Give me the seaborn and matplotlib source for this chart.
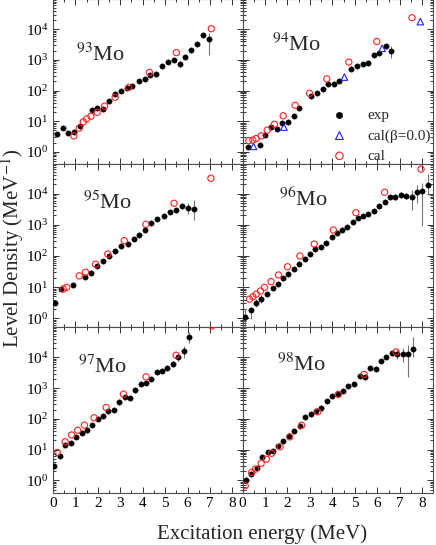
import matplotlib
matplotlib.use("Agg")
import matplotlib.pyplot as plt
import numpy as np
import pandas as pd
import seaborn as sns
from matplotlib.ticker import FixedLocator, LogLocator, MultipleLocator, NullFormatter

# ---- data (excitation energy in MeV, level density in 1/MeV) ----
mo93_exp_x = [0.16, 0.43, 0.68, 0.93, 1.2, 1.73, 1.98, 2.24, 2.5, 2.76, 3.02, 3.28, 3.54, 3.82,
              4.09, 4.34, 4.6, 4.86, 5.13, 5.38, 5.65, 5.9, 6.17, 6.42, 6.7, 6.97]
mo93_exp_y = [3.7, 5.8, 4.2, 4.4, 7.0, 23, 26, 25, 45, 75, 98, 117, 145, 200,
              245, 323, 347, 630, 850, 980, 760, 1260, 2150, 3200, 6300, 4900]
mo93_cal_x = [0.93, 1.17, 1.35, 1.5, 1.69, 1.97, 2.3, 2.77, 3.38, 4.3, 5.5, 7.06]
mo93_cal_y = [3.3, 5.9, 9.5, 11.8, 14.5, 19.4, 31, 60, 127, 390, 1730, 10500]
mo93_err_x = [5.65, 6.7, 6.97]
mo93_err_lo = [600, 5200, 1500]
mo93_err_hi = [950, 7600, 7400]

mo94_exp_x = [0.24, 0.76, 1.02, 1.27, 1.53, 1.76, 2.03, 2.27, 2.53, 3.05, 3.31, 3.57, 3.79, 4.06,
              4.31, 4.83, 5.08, 5.35, 5.6, 5.87, 6.09, 6.36, 6.61]
mo94_exp_y = [1.45, 1.65, 3.5, 6.6, 5.5, 8.4, 9.5, 14.7, 27, 66, 85, 110, 160, 160,
              205, 490, 630, 740, 810, 1450, 1730, 2900, 1950]
mo94_cal_x = [0.28, 0.46, 0.61, 0.83, 1.1, 1.42, 1.81, 2.34, 2.98, 3.75, 4.73, 5.97, 7.54]
mo94_cal_y = [2.3, 2.4, 2.7, 3.3, 5.1, 7.9, 15, 33, 81, 240, 850, 4000, 24000]
mo94_b0_x = [0.49, 1.84, 4.53, 6.21, 7.91]
mo94_b0_y = [1.5, 6.4, 275, 2400, 17800]
mo94_err_x = [6.61]
mo94_err_lo = [1120]
mo94_err_hi = [2820]

mo95_exp_x = [0.09, 0.34, 0.91, 1.43, 1.69, 1.97, 2.24, 2.5, 2.77, 3.04, 3.33, 3.59, 3.85, 4.1,
              4.38, 4.65, 4.93, 5.2, 5.48, 5.75, 6.02, 6.3]
mo95_exp_y = [3.0, 8.7, 11.7, 21.5, 27.6, 47, 69, 100, 144, 209, 240, 350, 470, 680,
              1100, 1490, 1950, 2500, 2960, 4000, 3400, 3100]
mo95_cal_x = [0.46, 0.61, 1.17, 1.45, 1.9, 2.44, 3.18, 4.14, 5.4, 7.04]
mo95_cal_y = [8.7, 9.8, 23, 30, 54, 115, 310, 1030, 4900, 31000]
mo95_err_x = [6.02, 6.3]
mo95_err_lo = [2300, 1410]
mo95_err_hi = [5000, 6200]

mo96_exp_x = [0.09, 0.39, 0.61, 0.84, 1.1, 1.35, 1.58, 1.82, 2.04, 2.29, 2.53, 2.78, 3.0, 3.24,
              3.47, 3.72, 3.96, 4.19, 4.43, 4.65, 4.9, 5.13, 5.38, 5.6, 5.85, 6.07, 6.32, 6.58,
              6.8, 7.05, 7.27, 7.52, 7.75, 7.99, 8.24]
mo96_exp_y = [1.1, 1.85, 3.2, 4.2, 5.9, 9.6, 12.6, 19, 26, 38, 55, 78, 112, 166,
              197, 265, 400, 525, 680, 870, 1230, 1600, 1950, 2200, 2800, 4000, 5400, 7900,
              7900, 9100, 8600, 7900, 11000, 12300, 18600]
mo96_cal_x = [0.31, 0.46, 0.61, 0.8, 0.98, 1.27, 1.6, 2.0, 2.55, 3.19, 4.04, 5.04, 6.32, 7.94]
mo96_cal_y = [4.1, 4.9, 5.9, 7.5, 9.8, 15, 24.5, 45, 100, 240, 680, 2450, 11000, 61000]
mo96_err_x = [0.09, 0.39, 0.61, 0.84, 6.8, 7.05, 7.27, 7.52, 7.75, 7.99, 8.24]
mo96_err_lo = [0.5, 0.93, 2.3, 3.2, 6300, 7200, 6800, 2950, 4900, 910, 8900]
mo96_err_hi = [2.0, 2.3, 4.3, 5.5, 9800, 11300, 10700, 12900, 18600, 22400, 44000]

mo97_exp_x = [0.06, 0.33, 0.54, 0.79, 1.03, 1.28, 1.53, 1.75, 1.99, 2.22, 2.47, 2.72, 2.96, 3.21,
              3.44, 3.66, 3.91, 4.14, 4.38, 4.63, 4.88, 5.1, 5.34, 5.57, 5.82, 6.07]
mo97_exp_y = [2.9, 6.3, 14, 16.7, 26, 35, 43, 62, 96, 123, 183, 194, 345, 525,
              485, 870, 1320, 1490, 1950, 3240, 3550, 4400, 6300, 10000, 16000, 47000]
mo97_cal_x = [0.19, 0.54, 0.83, 1.1, 1.4, 1.83, 2.37, 3.14, 4.15, 5.49, 7.08]
mo97_cal_y = [8.1, 18, 30, 43, 63, 109, 235, 640, 2340, 11800, 105000]
mo97_err_x = [5.34, 5.57, 5.82, 6.07]
mo97_err_lo = [5000, 7800, 9300, 29000]
mo97_err_hi = [7800, 12800, 23000, 68000]

mo98_exp_x = [0.15, 0.4, 0.63, 0.86, 1.12, 1.34, 1.6, 1.82, 2.07, 2.3, 2.55, 2.79, 3.04, 3.26,
              3.51, 3.75, 4.0, 4.25, 4.49, 4.71, 4.96, 5.21, 5.45, 5.67, 5.92, 6.18, 6.4, 6.64,
              6.89, 7.14, 7.38, 7.6]
mo98_exp_y = [1.0, 1.6, 2.6, 5.6, 8.1, 9.2, 13, 19, 27.5, 40, 60, 112, 144, 183,
              235, 380, 560, 630, 800, 1170, 1320, 2450, 2240, 4400, 4170, 7600, 10000, 14100,
              12600, 13200, 13200, 18600]
mo98_cal_x = [0.12, 0.41, 0.58, 0.83, 1.06, 1.3, 1.67, 2.1, 2.63, 3.35, 4.26, 5.41, 6.83]
mo98_cal_y = [0.67, 1.82, 2.33, 3.6, 4.9, 7.6, 12.4, 26, 62, 170, 630, 2800, 15100]
mo98_err_x = [0.15, 6.89, 7.14, 7.38, 7.6]
mo98_err_lo = [0.75, 8600, 7200, 2350, 10500]
mo98_err_hi = [1.3, 19500, 20600, 25000, 47000]

nuclei = ["93", "94", "95", "96", "97", "98"]
legend_labels = ["exp", "cal(\u03b2=0.0)", "cal"]

PANELS = {
    "93": (mo93_exp_x, mo93_exp_y, mo93_cal_x, mo93_cal_y, mo93_err_x, mo93_err_lo, mo93_err_hi),
    "94": (mo94_exp_x, mo94_exp_y, mo94_cal_x, mo94_cal_y, mo94_err_x, mo94_err_lo, mo94_err_hi),
    "95": (mo95_exp_x, mo95_exp_y, mo95_cal_x, mo95_cal_y, mo95_err_x, mo95_err_lo, mo95_err_hi),
    "96": (mo96_exp_x, mo96_exp_y, mo96_cal_x, mo96_cal_y, mo96_err_x, mo96_err_lo, mo96_err_hi),
    "97": (mo97_exp_x, mo97_exp_y, mo97_cal_x, mo97_cal_y, mo97_err_x, mo97_err_lo, mo97_err_hi),
    "98": (mo98_exp_x, mo98_exp_y, mo98_cal_x, mo98_cal_y, mo98_err_x, mo98_err_lo, mo98_err_hi),
}

# panel placement in pixels: (left, top, right, bottom)
W, H = 436, 545
COL_X = [(53, 242.5), (242.5, 432.5)]
ROW_Y = [(-1, 164), (164, 327), (327, 493)]
ROW_YLIM = [(10 ** -0.40, 10 ** 4.99), (10 ** -0.28, 10 ** 4.95), (10 ** -0.41, 10 ** 4.99)]
LABEL_POS = {"93": (0.12, 0.66), "94": (0.155, 0.72), "95": (0.16, 0.76),
             "96": (0.19, 0.78), "97": (0.13, 0.76), "98": (0.18, 0.77)}

sns.set_style("ticks")
plt.rcParams["font.family"] = ["Liberation Serif", "DejaVu Serif"]
plt.rcParams["mathtext.fontset"] = "stix"

fig = plt.figure(figsize=(W / 100, H / 100), dpi=100)


def style_axes(ax, row, col):
    ax.set_yscale("log")
    ax.set_xlim(0, 8.45)
    ax.set_ylim(*ROW_YLIM[row])
    ax.xaxis.set_major_locator(MultipleLocator(1))
    ax.xaxis.set_minor_locator(MultipleLocator(0.5))
    ax.yaxis.set_major_locator(FixedLocator([1, 10, 100, 1e3, 1e4]))
    ax.yaxis.set_minor_locator(LogLocator(base=10, subs=np.arange(2, 10)))
    ax.yaxis.set_minor_formatter(NullFormatter())
    ax.tick_params(which="both", direction="in", top=True, right=True,
                   width=0.7, colors="0.2", labelcolor="black", labelsize=11)
    ax.tick_params(which="major", length=4)
    ax.tick_params(which="minor", length=2)
    ax.tick_params(axis="x", pad=3)
    if col == 1:
        ax.tick_params(axis="y", labelleft=False)
    if row < 2:
        ax.tick_params(axis="x", labelbottom=False)
    for sp in ax.spines.values():
        sp.set_linewidth(0.8)
        sp.set_color("0.3")
    ax.set_xlabel("")
    ax.set_ylabel("")


for i, nuc in enumerate(nuclei):
    row, col = divmod(i, 2)
    x0, x1 = COL_X[col]
    y0, y1 = ROW_Y[row]
    ax = fig.add_axes([x0 / W, 1 - y1 / H, (x1 - x0) / W, (y1 - y0) / H])
    ex, ey, cx, cy, erx, erlo, erhi = PANELS[nuc]

    ax.vlines(erx, erlo, erhi, color="0.45", linewidth=0.8, zorder=2)
    sns.scatterplot(x=ex, y=ey, ax=ax, color="black", marker="o", s=15,
                    edgecolor="black", linewidth=0.3, zorder=3, label=legend_labels[0])
    if nuc == "94":
        sns.scatterplot(x=mo94_b0_x, y=mo94_b0_y, ax=ax, marker="^", s=22,
                        facecolor="none", edgecolor="#1f1fff", linewidth=0.8, zorder=4,
                        label=legend_labels[1])
    sns.scatterplot(x=cx, y=cy, ax=ax, marker="o", s=20, facecolor="none",
                    edgecolor="#ff2020", linewidth=0.8, zorder=4, label=legend_labels[2])

    style_axes(ax, row, col)
    lx, ly = LABEL_POS[nuc]
    ax.text(lx, ly, rf"$^{{{nuc}}}$Mo", transform=ax.transAxes, fontsize=16,
            ha="left", va="center")

    if nuc == "94":
        ax.legend(loc="upper left", bbox_to_anchor=(0.47, 0.335), frameon=False,
                  fontsize=11, handlelength=1.0, handletextpad=1.3,
                  borderpad=0, borderaxespad=0, labelspacing=0.42, markerscale=1.2)
    else:
        leg = ax.get_legend()
        if leg is not None:
            leg.remove()

fig.text(13 / W, 1 - 248 / H, "Level Density (MeV$^{-1}$)", rotation=90,
         ha="center", va="center", fontsize=15)
fig.text(262 / W, 1 - 534 / H, "Excitation energy (MeV)", ha="center", va="center",
         fontsize=15)

fig.savefig("out.png", dpi=100)
